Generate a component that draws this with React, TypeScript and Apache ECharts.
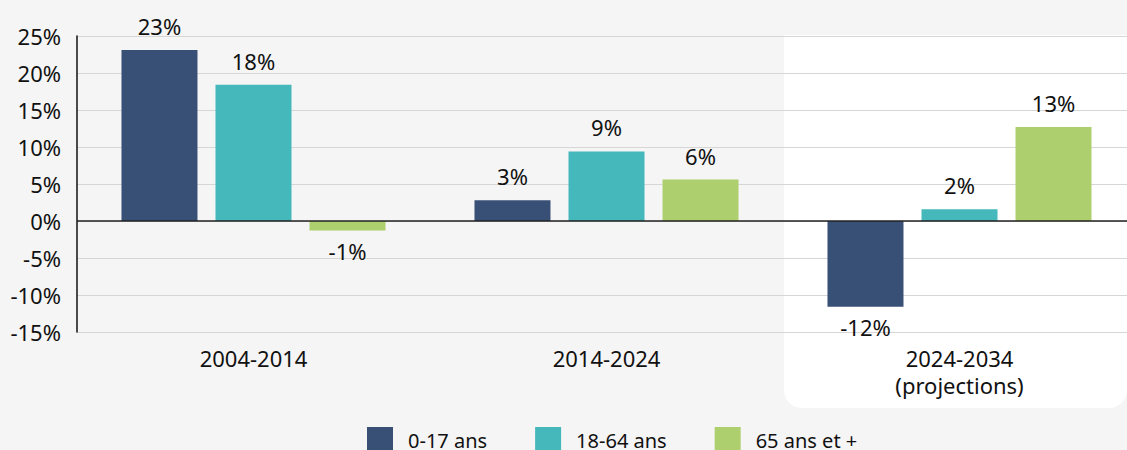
import React, { useEffect, useRef } from "react";
import * as echarts from "echarts";

const categories = ["2004-2014", "2014-2024", "2024-2034\n(projections)"];
const seriesNames = ["0-17 ans", "18-64 ans", "65 ans et +"];
const values0to17 = [23.1, 2.8, -11.6];
const values18to64 = [18.4, 9.4, 1.6];
const values65plus = [-1.3, 5.6, 12.7];
const colors = ["#384f76", "#45b8bb", "#aecf6e"];
const yMin = -15;
const yMax = 25;
const yInterval = 5;

const FONT = "Noto Sans";
const FS = 22;

export default function App() {
  const ref = useRef<HTMLDivElement>(null);
  useEffect(() => {
    if (!ref.current) return;
    document.body.style.margin = "0";
    document.body.style.background = "#f5f5f5";
    const chart = echarts.init(ref.current, undefined, { renderer: "svg" });
    const allValues = [values0to17, values18to64, values65plus];
    const series: any[] = allValues.map((vals, i) => ({
      name: seriesNames[i],
      type: "bar",
      barWidth: 76,
      barGap: "23.7%",
      itemStyle: { color: colors[i] },
      data: vals.map((v) => ({
        value: v,
        label: {
          show: true,
          position: v < 0 ? "bottom" : "top",
          distance: v < 0 ? 9 : 13,
          formatter: (p: any) => Math.round(p.value) + "%",
          color: "#111",
          fontFamily: FONT,
          fontSize: FS,
        },
      })),
      z: 3,
    }));
    series[0].markLine = {
      silent: true,
      symbol: "none",
      label: { show: false },
      lineStyle: { color: "#222", type: "solid", width: 1.5 },
      data: [{ yAxis: 0 }],
      z: 5,
    };
    chart.setOption({
      animation: false,
      backgroundColor: "#f5f5f5",
      textStyle: { fontFamily: FONT },
      graphic: {
        elements: [
          {
            type: "rect",
            z: -100,
            shape: { x: 784, y: 35, width: 343, height: 373, r: [0, 0, 18, 18] },
            style: { fill: "#ffffff" },
          },
        ],
      },
      grid: { left: 77, top: 36, width: 1059, bottom: 118, containLabel: false },
      legend: {
        data: seriesNames,
        left: 367,
        top: 427,
        padding: 0,
        itemWidth: 26,
        itemHeight: 26,
        itemGap: 48,
        icon: "rect",
        textStyle: { fontFamily: FONT, fontSize: 20, color: "#111", padding: [0, 0, 0, 10] },
      },
      xAxis: {
        type: "category",
        data: categories,
        axisLine: { show: false },
        axisTick: { show: false },
        axisLabel: {
          color: "#111",
          fontFamily: FONT,
          fontSize: FS,
          lineHeight: 27,
          margin: 12,
        },
      },
      yAxis: {
        type: "value",
        min: yMin,
        max: yMax,
        interval: yInterval,
        axisLine: { show: true, lineStyle: { color: "#111", width: 1.5 } },
        axisTick: { show: false },
        axisLabel: {
          color: "#111",
          fontFamily: FONT,
          fontSize: FS,
          margin: 16,
          formatter: (v: number) => v + "%",
        },
        splitLine: { lineStyle: { color: "#d6d6d6", width: 1.2 } },
      },
      series,
    });
    return () => chart.dispose();
  }, []);
  return (
    <div
      style={{
        position: "fixed",
        left: 0,
        top: 0,
        width: 1127,
        height: 450,
        overflow: "hidden",
        background: "#f5f5f5",
      }}
    >
      <div ref={ref} style={{ width: 1136, height: 450 }} />
    </div>
  );
}
